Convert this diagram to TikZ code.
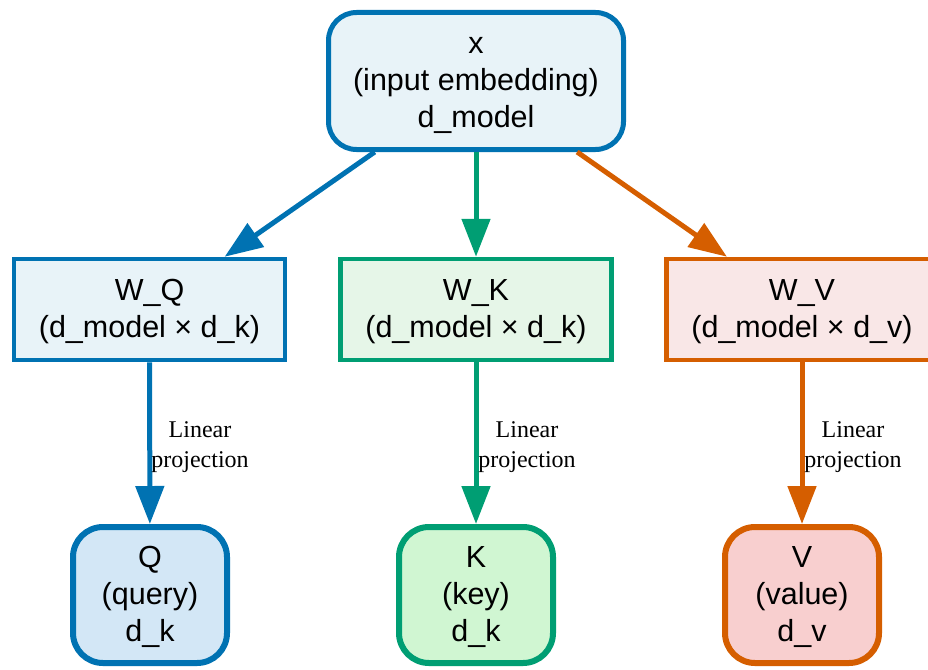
\documentclass[tikz,border=0pt]{standalone}
\usepackage{fontspec}
\setmainfont{Liberation Sans}
\newfontfamily\lblfont{Liberation Serif}
\usetikzlibrary{arrows.meta}
\newcommand\tbeg{\rule{0pt}{28pt}}
\newcommand\tend{\rule[-10pt]{0pt}{10pt}}
\definecolor{cblue}{HTML}{0072B2}
\definecolor{cgreen}{HTML}{009E73}
\definecolor{corange}{HTML}{D55E00}
\definecolor{fx}{HTML}{E8F3F8}
\definecolor{fwq}{HTML}{E8F3F8}
\definecolor{fwk}{HTML}{E6F6E8}
\definecolor{fwv}{HTML}{F9E7E7}
\definecolor{fq}{HTML}{D3E7F6}
\definecolor{fk}{HTML}{D0F6D2}
\definecolor{fv}{HTML}{F8CFCF}
\tikzset{
  txt/.style={align=center, font=\fontsize{30.5}{37}\selectfont, inner sep=0pt},
  inbox/.style={txt, draw=cblue, fill=fx, line width=5pt, rounded corners=28pt,
    minimum width=295pt, minimum height=137pt},
  wbox/.style={txt, line width=4.5pt, minimum width=271pt, minimum height=101pt},
  outbox/.style={txt, line width=6pt, rounded corners=30pt,
    minimum width=154pt, minimum height=136pt},
  conn/.style={line width=5pt, -{Triangle[length=38pt,width=28pt]}},
  lbl/.style={align=center, font=\lblfont\fontsize{24}{30}\selectfont, inner sep=0pt}
}
\begin{document}
\begin{tikzpicture}[x=1pt,y=-1pt]
\useasboundingbox (0,0) rectangle (928,669);
\node[inbox] (x) at (476,81) {\tbeg x\\(input embedding)\\d\_model\tend};
\node[wbox, draw=cblue, fill=fwq] (wq) at (149.5,309.5) {\tbeg W\_Q\\(d\_model × d\_k)\tend};
\node[wbox, draw=cgreen, fill=fwk] (wk) at (476,309.5) {\tbeg W\_K\\(d\_model × d\_k)\tend};
\node[wbox, draw=corange, fill=fwv] (wv) at (802,309.5) {\tbeg W\_V\\(d\_model × d\_v)\tend};
\node[outbox, draw=cblue, fill=fq] (q) at (150,595) {\tbeg Q\\(query)\\d\_k\tend};
\node[outbox, draw=cgreen, fill=fk] (k) at (476,595) {\tbeg K\\(key)\\d\_k\tend};
\node[outbox, draw=corange, fill=fv] (v) at (802,595) {\tbeg V\\(value)\\d\_v\tend};
\draw[conn, cblue] (x) -- (wq);
\draw[conn, cgreen] (x) -- (wk);
\draw[conn, corange] (x) -- (wv);
\draw[conn, cblue] (wq) -- (q);
\draw[conn, cgreen] (wk) -- (k);
\draw[conn, corange] (wv) -- (v);
\node[lbl] (l1) at (200,447) {Linear\\projection};
\node[lbl] (l2) at (527,447) {Linear\\projection};
\node[lbl] (l3) at (853,447) {Linear\\projection};
\end{tikzpicture}
\end{document}
